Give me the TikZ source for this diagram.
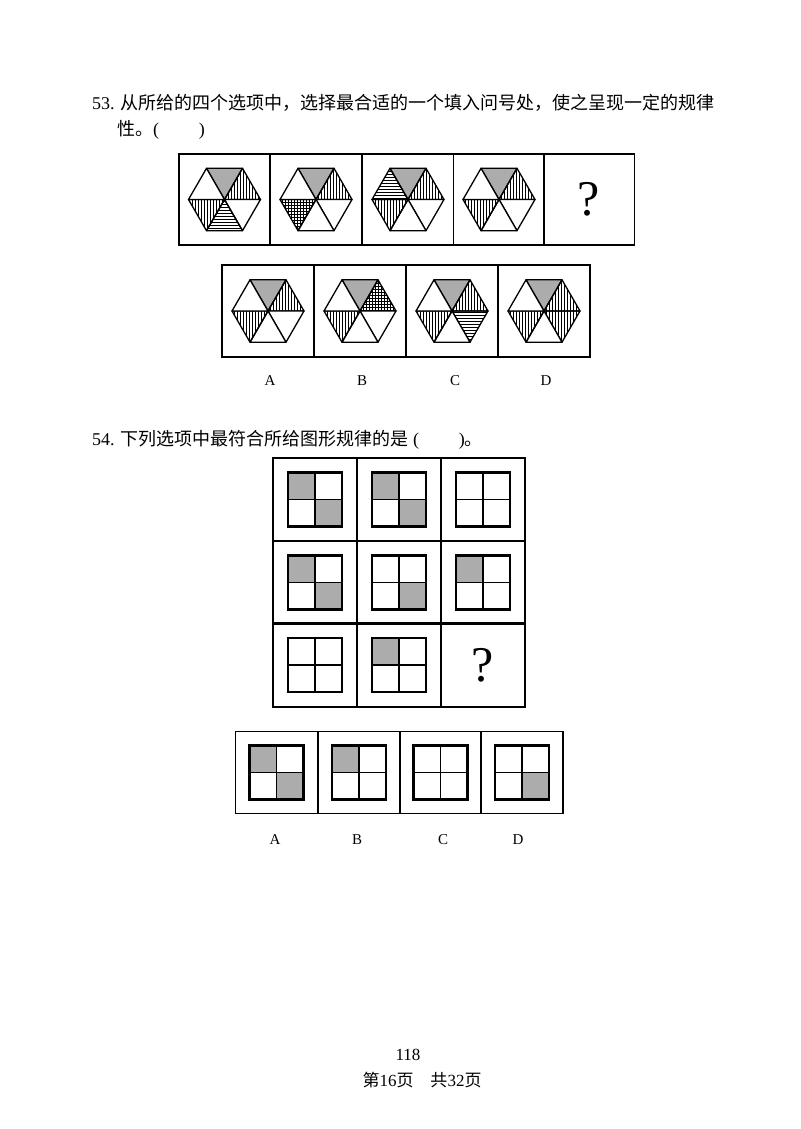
\documentclass[tikz,border=0pt]{standalone}
\usepackage{fontspec}
\setmainfont{Liberation Serif}
\newfontfamily\cjk{Noto Sans CJK SC}
\usetikzlibrary{patterns}
\tikzset{
  box/.style={draw, line width=1.8pt, minimum width=#1, minimum height=#1, inner sep=0pt},
  dk/.style={fill=gray!65},
  vl/.style={pattern=vertical lines},
  hl/.style={pattern=horizontal lines},
  gr/.style={pattern=grid},
  wh/.style={fill=white},
  tri/.style={draw, line width=1.3pt, line join=round},
  sq/.style={draw, line width=1.6pt},
  qm/.style={font=\fontsize{50}{50}\selectfont},
  lab/.style={font=\fontsize{15}{15}\selectfont},
  txt/.style={font=\fontsize{18}{20}\selectfont, anchor=west, inner sep=0pt}
}
% hexagon: center, T UR LR B LL UL
\newcommand\hexa[8]{%
  \begin{scope}[shift={(#1,#2)}]
    \path[tri,#3] (0,0) -- (60:36pt) -- (120:36pt) -- cycle;
    \path[tri,#4] (0,0) -- (0:36pt) -- (60:36pt) -- cycle;
    \path[tri,#5] (0,0) -- (300:36pt) -- (0:36pt) -- cycle;
    \path[tri,#6] (0,0) -- (240:36pt) -- (300:36pt) -- cycle;
    \path[tri,#7] (0,0) -- (180:36pt) -- (240:36pt) -- cycle;
    \path[tri,#8] (0,0) -- (120:36pt) -- (180:36pt) -- cycle;
  \end{scope}}
% 2x2 square: center, TL TR BL BR
\newcommand\quadsq[6]{%
  \begin{scope}[shift={(#1,#2)}]
    \path[sq,#3] (-27pt,27pt) rectangle (0,0);
    \path[sq,#4] (0,27pt) rectangle (27pt,0);
    \path[sq,#5] (-27pt,0) rectangle (0,-27pt);
    \path[sq,#6] (0,0) rectangle (27pt,-27pt);
    \draw[line width=2.4pt] (-27pt,-27pt) rectangle (27pt,27pt);
  \end{scope}}
\begin{document}
\begin{tikzpicture}[x=1pt,y=-1pt]
\useasboundingbox (0,0) rectangle (800,1129);
\node[txt] (q53a) at (92,103) {53. {\cjk 从所给的四个选项中，选择最合适的一个填入问号处，使之呈现一定的规律}};
\node[txt] (q53b) at (117,130) {{\cjk 性。}(\hspace{2.2em})};
% Q53 top row
\foreach \x/\n in {224.5/1,316/2,408/3,499/4,589/5}
  \node[box=91pt] (t\n) at (\x,199.5) {};
\hexa{224.5}{199.5}{dk}{vl}{wh}{hl}{vl}{wh}
\hexa{316}{199.5}{dk}{vl}{wh}{wh}{gr}{wh}
\hexa{408}{199.5}{dk}{vl}{wh}{wh}{vl}{hl}
\hexa{499}{199.5}{dk}{vl}{wh}{wh}{vl}{wh}
\node[qm] (t5q) at (589,199.5) {?};
% Q53 options
\foreach \x/\n in {268/A,360/B,452/C,544/D}
  \node[box=92pt] (o\n) at (\x,311) {};
\hexa{268}{311}{dk}{vl}{wh}{wh}{vl}{wh}
\hexa{360}{311}{dk}{gr}{wh}{wh}{vl}{wh}
\hexa{452}{311}{dk}{vl}{hl}{wh}{vl}{wh}
\hexa{544}{311}{dk}{vl}{vl}{wh}{vl}{wh}
\foreach \x/\n in {270/A,362/B,455/C,546/D}
  \node[lab] (l\n) at (\x,381) {\n};
% Q54
\node[txt] (q54) at (92,440) {54. {\cjk 下列选项中最符合所给图形规律的是} (\hspace{2.2em}){\cjk 。}};
\foreach \c/\x in {1/315,2/399,3/483}
  \foreach \r/\y in {1/499.5,2/582.5,3/665}
    \node[box=83.5pt] (g\r\c) at (\x,\y) {};
\quadsq{315}{499.5}{dk}{wh}{wh}{dk}
\quadsq{399}{499.5}{dk}{wh}{wh}{dk}
\quadsq{483}{499.5}{wh}{wh}{wh}{wh}
\quadsq{315}{582.5}{dk}{wh}{wh}{dk}
\quadsq{399}{582.5}{wh}{wh}{wh}{dk}
\quadsq{483}{582.5}{dk}{wh}{wh}{wh}
\quadsq{315}{665}{wh}{wh}{wh}{wh}
\quadsq{399}{665}{dk}{wh}{wh}{wh}
\node[qm] (gq) at (483,665) {?};
\foreach \x/\n in {276.5/A,359/B,440.5/C,522/D}
  \node[box=82pt] (p\n) at (\x,772.5) {};
\quadsq{276.5}{772.5}{dk}{wh}{wh}{dk}
\quadsq{359}{772.5}{dk}{wh}{wh}{wh}
\quadsq{440.5}{772.5}{wh}{wh}{wh}{wh}
\quadsq{522}{772.5}{wh}{wh}{wh}{dk}
\foreach \x/\n in {275/A,357/B,443/C,518/D}
  \node[lab] (m\n) at (\x,840) {\n};
% footer
\node[font=\fontsize{17}{17}\selectfont] (pg) at (408,1055) {118};
\node[font=\fontsize{17}{17}\selectfont] (pg2) at (422,1080) {{\cjk 第}16{\cjk 页}\hspace{1em}{\cjk 共}32{\cjk 页}};
\end{tikzpicture}
\end{document}
